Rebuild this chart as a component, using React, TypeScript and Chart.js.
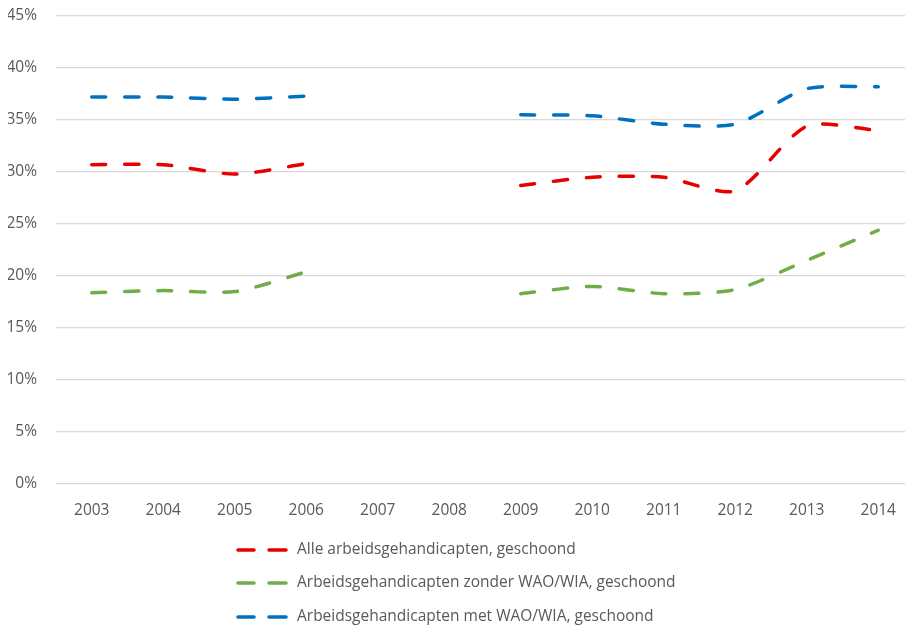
import React, { useEffect, useRef } from "react";
import { Chart, registerables } from "chart.js";

Chart.register(...registerables);

const years = ["2003", "2004", "2005", "2006", "2007", "2008", "2009", "2010", "2011", "2012", "2013", "2014"];

const alleArbeidsgehandicapten = [30.7, 30.7, 29.8, 30.8, null, null, 28.7, 29.5, 29.5, 28.2, 34.4, 34.0];
const zonderWaoWia = [18.4, 18.6, 18.5, 20.4, null, null, 18.3, 19.0, 18.3, 18.7, 21.5, 24.4];
const metWaoWia = [37.2, 37.2, 37.0, 37.3, null, null, 35.5, 35.4, 34.6, 34.6, 38.0, 38.2];

const seriesLabels = [
  "Alle arbeidsgehandicapten, geschoond",
  "Arbeidsgehandicapten zonder WAO/WIA, geschoond",
  "Arbeidsgehandicapten met WAO/WIA, geschoond",
];
const seriesColors = ["#E60000", "#70AD47", "#0070C0"];

const FONT = "'Open Sans', 'Noto Sans', sans-serif";
const TEXT_COLOR = "#595959";

// Legend drawn as a vertical list under the plot, one series per row
const stackedLegend = {
  id: "stackedLegend",
  afterDraw(chart: Chart) {
    const { ctx, chartArea } = chart;
    const rowY = [chartArea.bottom + 66, chartArea.bottom + 99, chartArea.bottom + 133];
    const x0 = 238;
    ctx.save();
    chart.data.datasets.forEach((ds: any, i: number) => {
      const y = rowY[i];
      ctx.strokeStyle = ds.borderColor;
      ctx.lineWidth = 3.5;
      ctx.lineCap = "round";
      ctx.beginPath();
      ctx.moveTo(x0, y);
      ctx.lineTo(x0 + 16, y);
      ctx.moveTo(x0 + 31, y);
      ctx.lineTo(x0 + 48, y);
      ctx.stroke();
      ctx.fillStyle = TEXT_COLOR;
      ctx.font = `15.5px ${FONT}`;
      ctx.textAlign = "left";
      ctx.textBaseline = "middle";
      ctx.fillText(ds.label, x0 + 59, y);
    });
    ctx.restore();
  },
};

export default function App() {
  const canvasRef = useRef<HTMLCanvasElement | null>(null);

  useEffect(() => {
    if (!canvasRef.current) return;
    const seriesData = [alleArbeidsgehandicapten, zonderWaoWia, metWaoWia];
    const chart = new Chart(canvasRef.current, {
      type: "line",
      data: {
        labels: years,
        datasets: seriesData.map((d, i) => ({
          label: seriesLabels[i],
          data: d,
          borderColor: seriesColors[i],
          backgroundColor: seriesColors[i],
          borderWidth: 3.5,
          borderDash: [14, 19],
          borderCapStyle: "round",
          pointRadius: 0,
          pointHoverRadius: 0,
          tension: 0.25,
          spanGaps: false,
          fill: false,
        })),
      },
      options: {
        animation: false,
        responsive: false,
        maintainAspectRatio: false,
        layout: { padding: { top: 16, left: 8, right: 0, bottom: 0 } },
        plugins: {
          legend: { display: false },
          tooltip: { enabled: false },
        },
        scales: {
          x: {
            offset: true,
            grid: { display: false },
            border: { display: false },
            ticks: {
              color: TEXT_COLOR,
              font: { family: FONT, size: 15.5 },
              padding: 9,
              maxRotation: 0,
            },
            afterFit(scale: any) {
              scale.height = 147;
            },
          },
          y: {
            min: 0,
            max: 45,
            grid: { color: "#D9D9D9", lineWidth: 1.3, drawTicks: false },
            border: { display: false },
            ticks: {
              stepSize: 5,
              color: TEXT_COLOR,
              font: { family: FONT, size: 15.5 },
              padding: 19,
              callback: (v: any) => `${v}%`,
            },
            afterFit(scale: any) {
              scale.width = 48;
              scale.paddingTop = 0;
              scale.paddingBottom = 0;
            },
          },
        },
      },
      plugins: [stackedLegend],
    });
    return () => chart.destroy();
  }, []);

  return (
    <div
      style={{
        position: "fixed",
        left: 0,
        top: 0,
        width: 905,
        height: 631,
        overflow: "hidden",
        background: "#ffffff",
      }}
    >
      <canvas ref={canvasRef} width={914} height={631} style={{ display: "block" }} />
    </div>
  );
}
